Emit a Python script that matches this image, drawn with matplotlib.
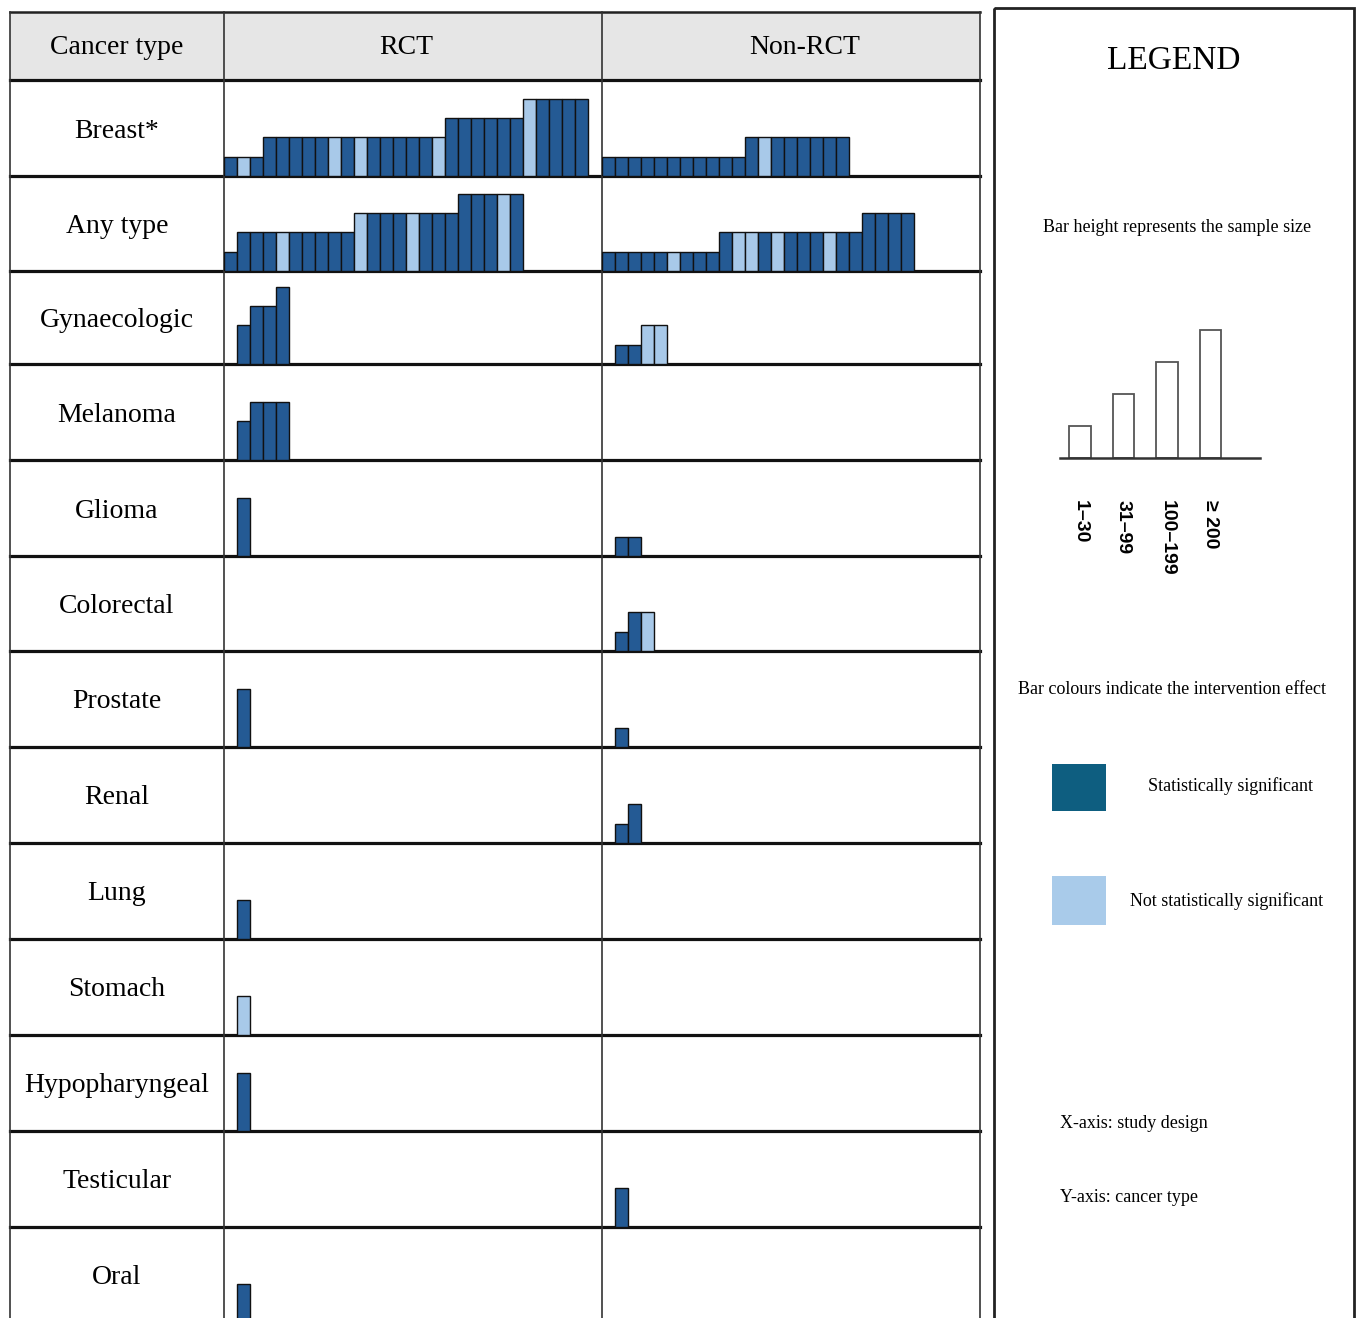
import matplotlib
matplotlib.use('Agg')
import matplotlib.pyplot as plt
from matplotlib.patches import Rectangle

plt.rcParams['font.family'] = ['Liberation Serif', 'DejaVu Serif']

cancer_types = ['Breast*', 'Any type', 'Gynaecologic', 'Melanoma', 'Glioma', 'Colorectal',
                'Prostate', 'Renal', 'Lung', 'Stomach', 'Hypopharyngeal', 'Testicular', 'Oral']
designs = ['RCT', 'Non-RCT']

# sample size class of each study (1: 1-30, 2: 31-99, 3: 100-199, 4: >=200)
# signif: 1 = statistically significant, 0 = not significant
rct_size = {
    'Breast*': [1, 1, 1, 2, 2, 2, 2, 2, 2, 2, 2, 2, 2, 2, 2, 2, 2, 3, 3, 3, 3, 3, 3, 4, 4, 4, 4, 4],
    'Any type': [1, 2, 2, 2, 2, 2, 2, 2, 2, 2, 3, 3, 3, 3, 3, 3, 3, 3, 4, 4, 4, 4, 4],
    'Gynaecologic': [2, 3, 3, 4],
    'Melanoma': [2, 3, 3, 3],
    'Glioma': [3],
    'Prostate': [3],
    'Lung': [2],
    'Stomach': [2],
    'Hypopharyngeal': [3],
    'Oral': [2],
}
rct_signif = {
    'Breast*': [1, 0, 1, 1, 1, 1, 1, 1, 0, 1, 0, 1, 1, 1, 1, 1, 0, 1, 1, 1, 1, 1, 1, 0, 1, 1, 1, 1],
    'Any type': [1, 1, 1, 1, 0, 1, 1, 1, 1, 1, 0, 1, 1, 1, 0, 1, 1, 1, 1, 1, 1, 0, 1],
    'Gynaecologic': [1, 1, 1, 1],
    'Melanoma': [1, 1, 1, 1],
    'Glioma': [1],
    'Prostate': [1],
    'Lung': [1],
    'Stomach': [0],
    'Hypopharyngeal': [1],
    'Oral': [1],
}
nonrct_size = {
    'Breast*': [1, 1, 1, 1, 1, 1, 1, 1, 1, 1, 1, 2, 2, 2, 2, 2, 2, 2, 2],
    'Any type': [1, 1, 1, 1, 1, 1, 1, 1, 1, 2, 2, 2, 2, 2, 2, 2, 2, 2, 2, 2, 3, 3, 3, 3],
    'Gynaecologic': [1, 1, 2, 2],
    'Glioma': [1, 1],
    'Colorectal': [1, 2, 2],
    'Prostate': [1],
    'Renal': [1, 2],
    'Testicular': [2],
}
nonrct_signif = {
    'Breast*': [1, 1, 1, 1, 1, 1, 1, 1, 1, 1, 1, 1, 0, 1, 1, 1, 1, 1, 1],
    'Any type': [1, 1, 1, 1, 1, 0, 1, 1, 1, 1, 0, 0, 1, 0, 1, 1, 1, 0, 1, 1, 1, 1, 1, 1],
    'Gynaecologic': [1, 1, 0, 0],
    'Glioma': [1, 1],
    'Colorectal': [1, 1, 0],
    'Prostate': [1],
    'Renal': [1, 1],
    'Testicular': [1],
}

size_labels = ['1–30', '31–99', '100–199', '≥ 200']
size_classes = [1, 2, 3, 4]

DARK = '#245a94'
LIGHT = '#a8c9e9'
W, H = 1356, 1318

fig = plt.figure(figsize=(W / 100, H / 100), dpi=100)
bg = fig.add_axes([0, 0, 1, 1])
bg.set_xlim(0, W)
bg.set_ylim(H, 0)
bg.axis('off')

# table layout (pixels)
col_edges = [10, 224, 602, 980]
row_edges = [80, 176, 271, 364, 460, 556, 651, 747, 843, 939, 1035, 1131, 1227, 1323]
slot_px = 13
level_px = 19.3

# header
bg.add_patch(Rectangle((10, 12), 970, 68, facecolor='#e6e6e6', edgecolor='none', zorder=0))
bg.text(117, 48, 'Cancer type', ha='center', va='center', fontsize=20)
bg.text(406, 48, designs[0], ha='center', va='center', fontsize=20)
bg.text(805, 48, designs[1], ha='center', va='center', fontsize=20)

# grid lines
bg.plot([10, 980], [12, 12], color='#222', lw=1.8, zorder=3)
for y in row_edges:
    bg.plot([10, 980], [y, y], color='#111', lw=2.3, zorder=3)
for x in col_edges:
    bg.plot([x, x], [12, 1330], color='#333', lw=1.2, zorder=3)

# cells
for i, ct in enumerate(cancer_types):
    y0, y1 = row_edges[i], row_edges[i + 1]
    bg.text(117, (y0 + y1) / 2 + 3, ct, ha='center', va='center', fontsize=20)
    start = 0 if ct in ('Breast*', 'Any type') else 1
    for j, (sizes, signif) in enumerate([(rct_size, rct_signif), (nonrct_size, nonrct_signif)]):
        x0, x1 = col_edges[j + 1], col_edges[j + 2]
        ax = fig.add_axes([x0 / W, 1 - y1 / H, (x1 - x0) / W, (y1 - y0) / H])
        ax.set_xlim(0, (x1 - x0) / slot_px)
        ax.set_ylim(0, (y1 - y0) / level_px)
        ax.axis('off')
        ax.patch.set_alpha(0)
        if ct in sizes:
            xs = [start + k + 0.5 for k in range(len(sizes[ct]))]
            cols = [DARK if s else LIGHT for s in signif[ct]]
            ax.bar(xs, sizes[ct], width=1, color=cols, edgecolor='#111', linewidth=1.0)

# legend panel
bg.add_patch(Rectangle((994, 8), 360, 1330, facecolor='none', edgecolor='#222', lw=2, zorder=3))
bg.text(1174, 61, 'LEGEND', ha='center', va='center', fontsize=24)
bg.text(1177, 228, 'Bar height represents the sample size', ha='center', va='center', fontsize=13)

lax = fig.add_axes([1060 / W, 1 - 458 / H, 200 / W, 140 / H])
lax.bar(range(4), size_classes, width=0.5, color='white', edgecolor='#555', linewidth=1.3)
lax.set_xlim(-0.46, 4.14)
lax.set_ylim(0, 140 / 32)
for s in ['top', 'right', 'left']:
    lax.spines[s].set_visible(False)
lax.spines['bottom'].set_color('#333')
lax.spines['bottom'].set_linewidth(1.8)
lax.set_yticks([])
lax.set_xticks(range(4))
lax.set_xticklabels(size_labels, rotation=270, fontsize=14, fontweight='bold',
                    family=['Liberation Sans', 'DejaVu Sans'])
lax.tick_params(axis='x', length=0, pad=30)
lax.patch.set_alpha(0)

bg.text(1172, 690, 'Bar colours indicate the intervention effect', ha='center', va='center', fontsize=13)
bg.add_patch(Rectangle((1052, 764), 54, 47, facecolor='#0e5e80', edgecolor='none'))
bg.text(1231, 786, 'Statistically significant', ha='center', va='center', fontsize=13)
bg.add_patch(Rectangle((1052, 876), 54, 49, facecolor='#a9cbea', edgecolor='none'))
bg.text(1227, 901, 'Not statistically significant', ha='center', va='center', fontsize=13)

bg.text(1060, 1123, 'X-axis: study design', ha='left', va='center', fontsize=13)
bg.text(1060, 1197, 'Y-axis: cancer type', ha='left', va='center', fontsize=13)

fig.savefig('out.png', dpi=100)
